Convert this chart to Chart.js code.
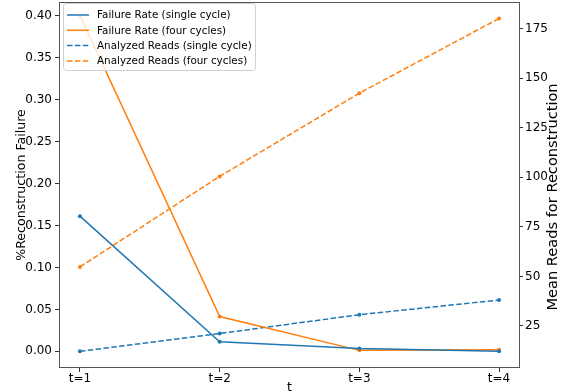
<!DOCTYPE html>
<html>
<head>
<meta charset="utf-8">
<script src="https://cdn.jsdelivr.net/npm/chart.js@4/dist/chart.umd.min.js"></script>
<style>
  html, body { margin: 0; padding: 0; background: #fff; }
  #wrap { width: 571px; height: 392px; position: relative; }
</style>
</head>
<body>
<div id="wrap"><canvas id="c" width="571" height="392"></canvas></div>
<script>
// ---- data ----
const categories = ['t=1', 't=2', 't=3', 't=4'];
const failureSingle = [0.161, 0.0115, 0.0035, 0.0];
const failureFour = [0.40, 0.0414, 0.0012, 0.002];
const readsSingle = [12.2, 21.2, 30.7, 38.1];
const readsFour = [54.8, 100.5, 142.5, 180.2];
const leftTicks = [0, 0.05, 0.10, 0.15, 0.20, 0.25, 0.30, 0.35, 0.40];
const rightTicks = [25, 50, 75, 100, 125, 150, 175];
const seriesLabels = ['Failure Rate (single cycle)', 'Failure Rate (four cycles)', 'Analyzed Reads (single cycle)', 'Analyzed Reads (four cycles)'];

const BLUE = '#1f77b4', ORANGE = '#ff7f0e';
const FONT = "'DejaVu Sans', sans-serif";
const toXY = arr => arr.map((v, i) => ({ x: i + 1, y: v }));
const DASH = [5.5, 2.4];

function ds(label, data, color, axis, dashed) {
  return {
    label, data: toXY(data), borderColor: color, backgroundColor: color,
    yAxisID: axis, borderWidth: 1.5, borderDash: dashed ? DASH : [],
    pointRadius: 2, pointHoverRadius: 2, pointBorderWidth: 0, tension: 0
  };
}

const frameAndLegend = {
  id: 'frameAndLegend',
  afterDatasetsDraw(chart) {
    const ctx = chart.ctx, a = chart.chartArea;
    ctx.save();
    // frame
    ctx.strokeStyle = '#555';
    ctx.lineWidth = 1;
    ctx.strokeRect(Math.round(a.left) + 0.5, Math.round(a.top) + 0.5, Math.round(a.right - a.left) - 1, Math.round(a.bottom - a.top) - 1);
    // legend box
    const bx = 63.5, by = 3.5, bw = 192, bh = 67;
    ctx.beginPath();
    ctx.roundRect(bx, by, bw, bh, 3);
    ctx.fillStyle = 'rgba(255,255,255,0.8)';
    ctx.fill();
    ctx.strokeStyle = '#d0d0d0';
    ctx.stroke();
    const rows = [15, 30.3, 45.6, 61];
    ctx.font = '10.4px ' + FONT;
    ctx.textBaseline = 'middle';
    ctx.textAlign = 'left';
    chart.data.datasets.forEach((d, i) => {
      const y = rows[i];
      ctx.beginPath();
      ctx.setLineDash(d.borderDash || []);
      ctx.strokeStyle = d.borderColor;
      ctx.lineWidth = 1.5;
      ctx.moveTo(67, y);
      ctx.lineTo(89, y);
      ctx.stroke();
      ctx.setLineDash([]);
      ctx.fillStyle = '#000';
      ctx.fillText(d.label, 97, y + 0.5);
    });
    // right axis title (reads bottom-to-top)
    ctx.save();
    ctx.translate(553, 197);
    ctx.rotate(-Math.PI / 2);
    ctx.font = '14.6px ' + FONT;
    ctx.textAlign = 'center';
    ctx.textBaseline = 'middle';
    ctx.fillStyle = '#000';
    ctx.fillText('Mean Reads for Reconstruction', 0, 0);
    ctx.restore();
    ctx.restore();
  }
};

new Chart(document.getElementById('c'), {
  type: 'line',
  data: {
    datasets: [
      ds(seriesLabels[0], failureSingle, BLUE, 'y', false),
      ds(seriesLabels[1], failureFour, ORANGE, 'y', false),
      ds(seriesLabels[2], readsSingle, BLUE, 'y1', true),
      ds(seriesLabels[3], readsFour, ORANGE, 'y1', true)
    ]
  },
  options: {
    responsive: false,
    devicePixelRatio: 1,
    animation: false,
    layout: { padding: { top: 2, left: 0, right: 0, bottom: 0 } },
    plugins: { legend: { display: false }, tooltip: { enabled: false } },
    scales: {
      x: {
        type: 'linear', position: 'bottom', min: 0.85, max: 4.15,
        afterBuildTicks: s => { s.ticks = categories.map((c, i) => ({ value: i + 1 })); },
        afterFit: s => { s.height = 24; s.paddingLeft = 0; s.paddingRight = 0; },
        ticks: { callback: v => categories[Math.round(v) - 1], font: { family: FONT, size: 12 }, color: '#000', padding: 0, maxRotation: 0, autoSkip: false },
        grid: { drawOnChartArea: false, drawTicks: true, tickLength: 4, tickColor: '#333' },
        border: { display: false },
        title: { display: true, text: 't', font: { family: FONT, size: 12.6 }, color: '#000', padding: { top: 0, bottom: -3 } }
      },
      y: {
        type: 'linear', position: 'left', min: -0.0198, max: 0.416,
        afterBuildTicks: s => { s.ticks = leftTicks.map(v => ({ value: v })); },
        afterFit: s => { s.width = 59; s.paddingTop = 0; s.paddingBottom = 0; },
        ticks: { callback: v => v.toFixed(2), font: { family: FONT, size: 12 }, color: '#000', padding: 3 },
        grid: { drawOnChartArea: false, drawTicks: true, tickLength: 4, tickColor: '#333' },
        border: { display: false },
        title: { display: true, text: '%Reconstruction Failure', font: { family: FONT, size: 12.6 }, color: '#000', padding: { top: 14, bottom: 0 } }
      },
      y1: {
        type: 'linear', position: 'right', min: 3.8, max: 188.5,
        afterBuildTicks: s => { s.ticks = rightTicks.map(v => ({ value: v })); },
        afterFit: s => { s.width = 51; s.paddingTop = 0; s.paddingBottom = 0; },
        ticks: { callback: v => String(v), font: { family: FONT, size: 12 }, color: '#000', padding: 2 },
        grid: { drawOnChartArea: false, drawTicks: true, tickLength: 3, tickColor: '#333' },
        border: { display: false },
        title: { display: false }
      }
    }
  },
  plugins: [frameAndLegend]
});
</script>
</body>
</html>
